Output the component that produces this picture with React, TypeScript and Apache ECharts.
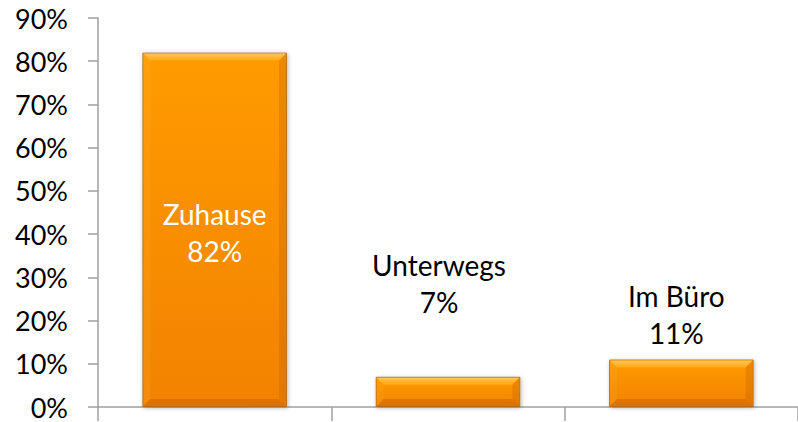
import React, { useEffect, useRef } from "react";
import * as echarts from "echarts";

const categories = ["Zuhause", "Unterwegs", "Im Büro"];
const values = [82, 7, 11];
const yTicks = { min: 0, max: 90, interval: 10 };

const FONT = "Lato";
const AXIS_COLOR = "#A0A0A0";

export default function App() {
  const ref = useRef<HTMLDivElement>(null);
  useEffect(() => {
    if (!ref.current) return;
    const chart = echarts.init(ref.current, null, { renderer: "svg" });
    const barFrac = 0.62;
    const labelCfg: any[] = [
      { position: "inside", color: "#FFFFFF", offset: [0, 3] },
      { position: "top", color: "#000000", distance: 56, offset: [-9, 0] },
      { position: "top", color: "#000000", distance: 8, offset: [-5, 0] },
    ];
    chart.setOption({
      animation: false,
      grid: { left: 98, top: 18, height: 389, width: 705, containLabel: false },
      xAxis: {
        type: "category",
        data: categories,
        boundaryGap: true,
        axisLabel: { show: false },
        axisLine: { show: true, lineStyle: { color: AXIS_COLOR, width: 1.5 } },
        axisTick: { show: true, length: 14, lineStyle: { color: AXIS_COLOR, width: 1.5 } },
        splitLine: { show: false },
      },
      yAxis: {
        type: "value",
        min: yTicks.min,
        max: yTicks.max,
        interval: yTicks.interval,
        axisLine: { show: true, lineStyle: { color: AXIS_COLOR, width: 1.5 } },
        axisTick: { show: true, length: 10, lineStyle: { color: AXIS_COLOR, width: 1.5 } },
        splitLine: { show: false },
        axisLabel: {
          formatter: "{value}%",
          fontFamily: FONT,
          fontSize: 27,
          lineHeight: 20,
          color: "#000000",
          margin: 30,
          padding: [0, 0, 3, 0],
        },
      },
      series: [
        {
          type: "bar",
          barWidth: barFrac * 100 + "%",
          data: values.map((v, i) => ({
            value: v,
            label: {
              show: true,
              formatter: "{b}\n{c}%",
              fontFamily: FONT,
              fontSize: 28,
              lineHeight: 37,
              align: "center",
              ...labelCfg[i],
            },
          })),
          itemStyle: {
            color: new echarts.graphic.LinearGradient(0, 0, 0, 1, [
              { offset: 0, color: "#FF9B00" },
              { offset: 1, color: "#F28200" },
            ]),
            borderColor: "rgba(170,95,0,0.7)",
            borderWidth: 1,
            shadowColor: "rgba(0,0,0,0.3)",
            shadowBlur: 4,
            shadowOffsetX: 1,
            shadowOffsetY: 1,
          },
        },
        {
          type: "custom",
          z: 3,
          silent: true,
          data: values.map((v, i) => [i, v]),
          renderItem: (params: any, api: any) => {
            const idx = api.value(0);
            const v = api.value(1);
            const top = api.coord([idx, v]);
            const base = api.coord([idx, 0]);
            const w = api.size([1, 0])[0] * barFrac;
            const x0 = top[0] - w / 2 + 1;
            const x1 = top[0] + w / 2 - 1;
            const y0 = top[1] + 1;
            const y1 = base[1] - 1;
            const b = 7;
            return {
              type: "group",
              children: [
                {
                  type: "polygon",
                  shape: { points: [[x0, y0], [x1, y0], [x1 - b, y0 + b], [x0 + b, y0 + b]] },
                  style: {
                    fill: new echarts.graphic.LinearGradient(0, 0, 0, 1, [
                      { offset: 0, color: "rgba(255,205,95,0.9)" },
                      { offset: 1, color: "rgba(255,175,40,0.7)" },
                    ]),
                  },
                },
                {
                  type: "polygon",
                  shape: { points: [[x1, y0], [x1, y1], [x1 - b, y1 - b], [x1 - b, y0 + b]] },
                  style: { fill: "rgba(190,95,0,0.3)" },
                },
                {
                  type: "polygon",
                  shape: { points: [[x0, y0], [x0 + b, y0 + b], [x0 + b, y1 - b], [x0, y1]] },
                  style: { fill: "rgba(255,190,70,0.15)" },
                },
                {
                  type: "polygon",
                  shape: { points: [[x0, y1], [x0 + b, y1 - b], [x1 - b, y1 - b], [x1, y1]] },
                  style: { fill: "rgba(170,80,0,0.3)" },
                },
              ],
            };
          },
        },
      ],
    });
    return () => chart.dispose();
  }, []);
  return (
    <div
      ref={ref}
      style={{ position: "fixed", left: 0, top: 0, width: 798, height: 422, background: "#FFFFFF" }}
    />
  );
}
